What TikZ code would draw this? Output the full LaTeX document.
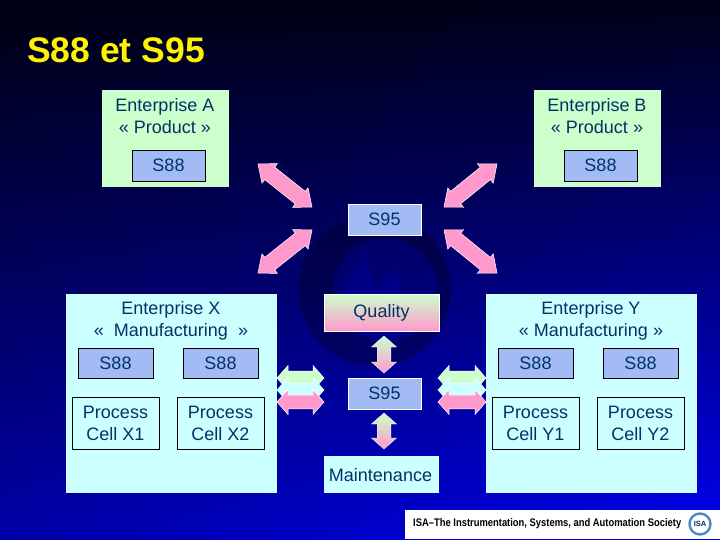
\documentclass[tikz,border=0pt]{standalone}
\usepackage{fontspec}
\setmainfont{Liberation Sans}
\usetikzlibrary{fadings}
\definecolor{pgreen}{HTML}{CCFFCC}
\definecolor{pcyan}{HTML}{CCFFFF}
\definecolor{ppink}{HTML}{FF99CC}
\definecolor{pblue}{HTML}{A3BBF5}
\definecolor{ink}{HTML}{003366}
\definecolor{bgtop}{HTML}{000018}
\definecolor{bgmid}{HTML}{000080}
\definecolor{bgbot}{HTML}{0000F0}
\tikzset{
 x=1pt,y=-1pt,
 lbl/.style={text=ink,font=\fontsize{18}{22}\selectfont,align=center,inner sep=0pt},
 smallbox/.style={rectangle,draw=black,line width=.8pt,text=ink,font=\fontsize{18}{22}\selectfont,align=center,inner sep=0pt},
 s88box/.style={smallbox,fill=pblue},
 s95box/.style={rectangle,draw=white,line width=.9pt,fill=pblue,text=ink,font=\fontsize{18}{22}\selectfont,inner sep=0pt},
}
% \blockarrow{options}{x1}{y1}{x2}{y2}
\newcommand{\blockarrow}[5]{%
 \pgfmathsetmacro{\ang}{atan2(#5-#3,#4-#2)}%
 \pgfmathsetmacro{\len}{veclen(#4-#2,#5-#3)}%
 \pgfmathsetmacro{\hl}{\len>50?15:11}%
 \pgfmathsetmacro{\sw}{\len>50?8:6.8}%
 \path[#1] ({#2+\hl*cos(\ang)-12.5*sin(\ang)},{#3+\hl*sin(\ang)+12.5*cos(\ang)})
  -- (#2,#3)
  -- ({#2+\hl*cos(\ang)+12.5*sin(\ang)},{#3+\hl*sin(\ang)-12.5*cos(\ang)})
  -- ({#2+\hl*cos(\ang)+\sw*sin(\ang)},{#3+\hl*sin(\ang)-\sw*cos(\ang)})
  -- ({#4-\hl*cos(\ang)+\sw*sin(\ang)},{#5-\hl*sin(\ang)-\sw*cos(\ang)})
  -- ({#4-\hl*cos(\ang)+12.5*sin(\ang)},{#5-\hl*sin(\ang)-12.5*cos(\ang)})
  -- (#4,#5)
  -- ({#4-\hl*cos(\ang)-12.5*sin(\ang)},{#5-\hl*sin(\ang)+12.5*cos(\ang)})
  -- ({#4-\hl*cos(\ang)-\sw*sin(\ang)},{#5-\hl*sin(\ang)+\sw*cos(\ang)})
  -- ({#2+\hl*cos(\ang)-\sw*sin(\ang)},{#3+\hl*sin(\ang)+\sw*cos(\ang)})
  -- cycle;}
\newcommand{\bx}[6][]{\node[#1,minimum width=#4-#2,minimum height=#5-#3] at ({(#2+#4)/2},{(#3+#5)/2}) {#6};}
\begin{document}
\begin{tikzpicture}
\useasboundingbox (0,0) rectangle (720,540);
% background
\shade[top color=bgtop,middle color=bgmid,bottom color=bgbot] (0,0) rectangle (720,540);
\fill[black,opacity=.3,path fading=east] (0,0) rectangle (720,540);
% watermark
\fill[bgtop,opacity=.35,even odd rule] (375,290) circle[radius=76] (385,290) circle[radius=52];
\fill[bgbot,opacity=.14] (345,285) -- (365,245) -- (375,290) -- (395,270) -- (415,320) -- (335,320) -- cycle;
% title
\node[anchor=base west,text=yellow,font=\bfseries\fontsize{35.5}{40}\selectfont,inner sep=0pt] (title) at (27,63) {S88 et S95};
% panels
\fill[pgreen] (102,90) rectangle (229,187);
\fill[pgreen] (534,90) rectangle (661,187);
\fill[pcyan] (66,294) rectangle (277,493);
\fill[pcyan] (486,294) rectangle (697,493);
\node[lbl] (ea) at (165,116) {Enterprise A\\« Product »};
\node[lbl] (eb) at (597,116) {Enterprise B\\« Product »};
\node[lbl] (ex) at (171,321) {Enterprise X\\«~ Manufacturing~ »};
\node[lbl] (ey) at (591,321) {Enterprise Y\\« Manufacturing »};
\bx[s88box,name=a88]{132}{150}{205}{181}{S88}
\bx[s88box,name=b88]{564}{150}{637}{181}{S88}
\bx[s88box,name=x88a]{78}{348}{153}{378}{S88}
\bx[s88box,name=x88b]{183}{348}{258}{378}{S88}
\bx[s88box,name=y88a]{498}{348}{573}{378}{S88}
\bx[s88box,name=y88b]{603}{348}{678}{378}{S88}
\bx[smallbox,name=xc1]{72}{397}{159}{449}{Process\\Cell X1}
\bx[smallbox,name=xc2]{177}{397}{264}{449}{Process\\Cell X2}
\bx[smallbox,name=yc1]{492}{397}{579}{449}{Process\\Cell Y1}
\bx[smallbox,name=yc2]{597}{397}{684}{449}{Process\\Cell Y2}
\bx[s95box,name=s95a]{348}{204}{421}{235}{S95}
\bx[s95box,name=s95b]{348}{378}{421}{409}{S95}
\shade[top color=pgreen,bottom color=ppink] (324,294) rectangle (439,331);
\draw[white,line width=.9pt] (324,294) rectangle (439,331);
\node[lbl] (quality) at (381.5,312.5) {Quality};
\fill[pcyan] (324,456) rectangle (439,493);
\node[lbl] (maint) at (380.5,475) {Maintenance};
% diagonal arrows
\tikzset{pinka/.style={fill=ppink,draw=white,line width=.5pt,line join=miter}}
\blockarrow{pinka}{258}{164}{312}{207}
\blockarrow{pinka}{497}{164}{444}{207}
\blockarrow{pinka}{312}{230}{258}{273}
\blockarrow{pinka}{444}{230}{497}{273}
% vertical
\tikzset{grada/.style={top color=pgreen,bottom color=ppink,draw=white,line width=.4pt}}
\blockarrow{grada}{384}{336}{384}{373}
\blockarrow{grada}{384}{413}{384}{449}
% horizontal stacks
\blockarrow{fill=pgreen,draw=white,line width=.5pt}{277}{378}{324}{378}
\blockarrow{fill=pcyan,draw=white,line width=.5pt}{277}{390}{324}{390}
\blockarrow{fill=ppink,draw=white,line width=.5pt}{277}{402}{324}{402}
\blockarrow{fill=pgreen,draw=white,line width=.5pt}{438}{378}{486}{378}
\blockarrow{fill=pcyan,draw=white,line width=.5pt}{438}{390}{486}{390}
\blockarrow{fill=ppink,draw=white,line width=.5pt}{438}{402}{486}{402}
% banner
\fill[white] (405,510) rectangle (720,539);
\node[anchor=west,text=black,font=\bfseries\fontsize{11}{12}\selectfont,inner sep=0pt,xscale=.855] (isa) at (413,524) {ISA--The Instrumentation, Systems, and Automation Society};
\draw[line width=2.4pt,color=teal!70!blue!70] (700,524) circle[radius=10.5];
\node[text=ink,font=\bfseries\fontsize{7.5}{8}\selectfont,inner sep=0pt] (isal) at (700,524) {ISA};
\end{tikzpicture}
\end{document}
